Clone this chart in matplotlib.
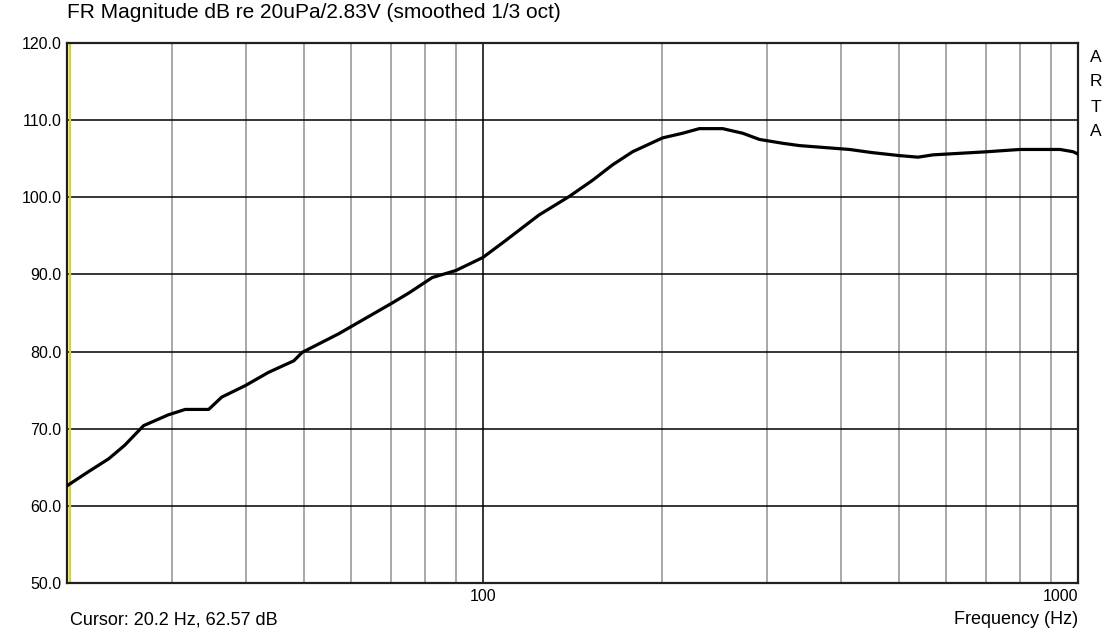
import matplotlib.pyplot as plt
import numpy as np

plt.rcParams['font.family'] = ['Liberation Sans', 'DejaVu Sans']

# frequency response, 1/3 octave smoothed
freq = [20, 21.7, 23.5, 25.0, 26.9, 29.6, 31.6, 34.6, 36.4, 39.9, 43.6, 48.1,
        49.7, 57.2, 70.4, 75.1, 82.2, 90.0, 100, 109.2, 124.2, 139.6, 152.8,
        165.1, 178.4, 200.4, 216.5, 231.0, 252.8, 273.3, 291.5, 319, 340.4,
        413, 450, 501.5, 538.5, 570.6, 632.9, 702, 798.8, 932.7, 982, 1000]
spl = [62.6, 64.4, 66.1, 67.85, 70.4, 71.8, 72.5, 72.5, 74.1, 75.6, 77.3, 78.8,
       79.9, 82.3, 86.3, 87.6, 89.6, 90.5, 92.2, 94.4, 97.7, 100.1, 102.2,
       104.2, 105.9, 107.7, 108.3, 108.9, 108.9, 108.3, 107.5, 107.0, 106.7,
       106.2, 105.8, 105.4, 105.2, 105.5, 105.7, 105.9, 106.2, 106.2, 105.9, 105.6]

yticks = [50, 60, 70, 80, 90, 100, 110, 120]
cursor_f = 20.2

fig = plt.figure(figsize=(11.07, 6.32), dpi=100)
ax = fig.add_axes([67/1107, 49/632, 1011/1107, 540/632])

ax.set_xscale('log')
ax.set_xlim(20, 1000)
ax.set_ylim(50, 120)

# grid
for f in list(range(30, 100, 10)) + list(range(200, 1000, 100)):
    ax.axvline(f, color='#a8a8a8', lw=1.4, zorder=1)
ax.axvline(100, color='black', lw=1.1, zorder=1)
for v in yticks[1:-1]:
    ax.axhline(v, color='black', lw=1.1, zorder=1)

ax.axvline(cursor_f, color='#d8d820', lw=1.6, zorder=2)

ax.plot(freq, spl, color='black', lw=2.3, zorder=3)

ax.set_yticks(yticks)
ax.set_yticklabels(['%.1f' % v for v in yticks], fontsize=11.5)
ax.set_xticks([100, 1000])
ax.set_xticklabels(['100', '1000'], fontsize=11.5)
ax.xaxis.set_minor_locator(plt.NullLocator())
ax.tick_params(length=0, pad=4)
ax.get_xticklabels()[1].set_horizontalalignment('right')

for s in ax.spines.values():
    s.set_linewidth(1.6)
    s.set_color('#202020')

fig.text(67/1107, 1 - 13/632, 'FR Magnitude dB re 20uPa/2.83V (smoothed 1/3 oct)',
         fontsize=15, va='center', ha='left')
fig.text(70/1107, 1 - 620/632, 'Cursor: 20.2 Hz, 62.57 dB', fontsize=13,
         va='center', ha='left')
fig.text(1078/1107, 1 - 620/632, 'Frequency (Hz)', fontsize=13,
         va='center', ha='right')
for i, ch in enumerate('ARTA'):
    fig.text(1096/1107, 1 - (57 + 25*i)/632, ch, fontsize=12.5,
             va='center', ha='center')

fig.savefig('out.png', dpi=100)
